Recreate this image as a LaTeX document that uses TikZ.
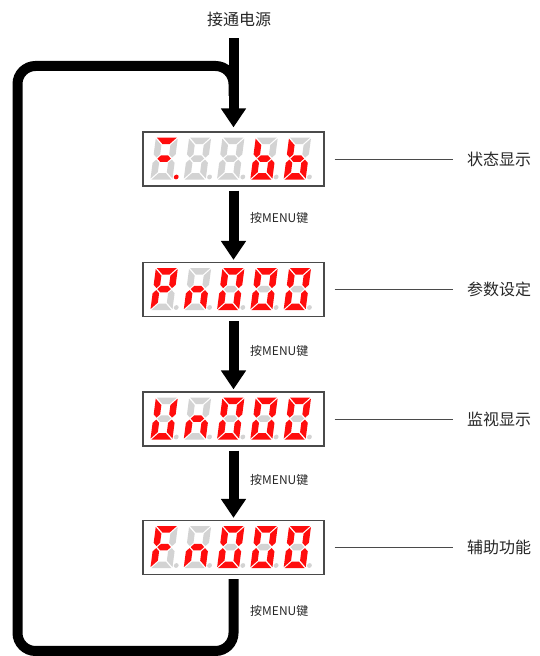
\documentclass[tikz,border=0pt]{standalone}
\usepackage{fontspec}
\usetikzlibrary{arrows.meta,calc}
\newfontfamily\cjk{Noto Sans CJK SC}
\definecolor{segon}{HTML}{FF0D0D}
\definecolor{segoff}{HTML}{D3D3D3}
\definecolor{boxline}{HTML}{4A4A4A}
\definecolor{txt}{HTML}{262626}
\makeatletter
\newcommand\setseg[2]{\in@{#1}{#2}\ifin@\def\segc{segon}\else\def\segc{segoff}\fi}
\makeatother
\newcommand\sdig[3]{%
 \begin{scope}[shift={($(#1.south west)+(8+33.3*#2,7)$)}, xslant=0.13]
  \setseg{a}{#3}\fill[fill=\segc] (1,42) -- (21,42) -- (14.5,35.5) -- (7.5,35.5) -- cycle;
  \setseg{b}{#3}\fill[fill=\segc] (22,41) -- (15.5,34.5) -- (15.5,25.25) -- (18.75,22) -- (22,25.25) -- cycle;
  \setseg{c}{#3}\fill[fill=\segc] (22,1) -- (15.5,7.5) -- (15.5,16.75) -- (18.75,20) -- (22,16.75) -- cycle;
  \setseg{d}{#3}\fill[fill=\segc] (1,0) -- (21,0) -- (14.5,6.5) -- (7.5,6.5) -- cycle;
  \setseg{e}{#3}\fill[fill=\segc] (0,1) -- (6.5,7.5) -- (6.5,16.75) -- (3.25,20) -- (0,16.75) -- cycle;
  \setseg{f}{#3}\fill[fill=\segc] (0,41) -- (6.5,34.5) -- (6.5,25.25) -- (3.25,22) -- (0,25.25) -- cycle;
  \setseg{g}{#3}\fill[fill=\segc] (4.25,21) -- (7.5,24.25) -- (14.5,24.25) -- (17.75,21) -- (14.5,17.75) -- (7.5,17.75) -- cycle;
  \setseg{p}{#3}\fill[fill=\segc] (25.5,2.6) circle (2.4);
 \end{scope}}
\newcommand\display[6]{%
 \sdig{#1}{0}{#2}\sdig{#1}{1}{#3}\sdig{#1}{2}{#4}\sdig{#1}{3}{#5}\sdig{#1}{4}{#6}}
\begin{document}
\begin{tikzpicture}[x=1pt,y=1pt,
  dispbox/.style={draw=boxline, line width=1.2pt, fill=white, minimum width=181pt, minimum height=54pt, inner sep=0pt},
  bigarrow/.style={line width=10pt, draw=black, -{Triangle[width=24pt,length=19pt]}},
  loopline/.style={line width=10pt, draw=black, rounded corners=18pt},
  leader/.style={draw=boxline, line width=0.8pt},
  biglabel/.style={font=\cjk\fontsize{16}{18}\selectfont, text=txt, inner sep=0pt},
  menulabel/.style={font=\cjk\fontsize{12}{14}\selectfont, text=txt, inner sep=0pt, anchor=west}]
\useasboundingbox (0,0) rectangle (539,656);
% power label
\node[biglabel, text height=11pt, text depth=3pt] (power) at (239,634) {接通电源};
% display boxes
\node[dispbox] (d1) at (233.5,497) {};
\node[dispbox] (d2) at (233.5,366.5) {};
\node[dispbox] (d3) at (233.5,237) {};
\node[dispbox] (d4) at (233.5,108.5) {};
\display{d1}{agp}{}{}{fgedc}{fgedc}
\display{d2}{abfge}{gec}{abcdef}{abcdef}{abcdef}
\display{d3}{bcdef}{gec}{abcdef}{abcdef}{abcdef}
\display{d4}{afge}{gec}{abcdef}{abcdef}{abcdef}
% right labels
\node[biglabel, anchor=west] (l1) at (467,497) {状态显示};
\node[biglabel, anchor=west] (l2) at (467,366.5) {参数设定};
\node[biglabel, anchor=west] (l3) at (467,237) {监视显示};
\node[biglabel, anchor=west] (l4) at (467,108.5) {辅助功能};
\foreach \i in {1,2,3,4}{
  \draw[leader, shorten <=10pt, shorten >=14pt] (d\i.east) -- (l\i.west);
}
% menu labels
\node[menulabel] (m1) at (250,438) {按MENU键};
\node[menulabel] (m2) at (250,305) {按MENU键};
\node[menulabel] (m3) at (250,176) {按MENU键};
\node[menulabel] (m4) at (250,45) {按MENU键};
% loop
\coordinate (lbr) at (233.5,5);
\coordinate (lbl) at (17.5,5);
\coordinate (ltl) at (17.5,590);
\coordinate (ltr) at (233.5,590);
\coordinate (lend) at (233.5,560);
\draw[loopline] ($(d4.south)+(0,-4)$) -- (lbr) -- (lbl) -- (ltl) -- (ltr) -- (lend);
% arrows
\draw[bigarrow, shorten <=9pt, shorten >=4pt] (power.south -| d1.north) -- (d1.north);
\draw[bigarrow, shorten <=4pt, shorten >=2pt] (d1.south) -- (d2.north);
\draw[bigarrow, shorten <=4pt, shorten >=2pt] (d2.south) -- (d3.north);
\draw[bigarrow, shorten <=4pt, shorten >=2pt] (d3.south) -- (d4.north);
\end{tikzpicture}
\end{document}
